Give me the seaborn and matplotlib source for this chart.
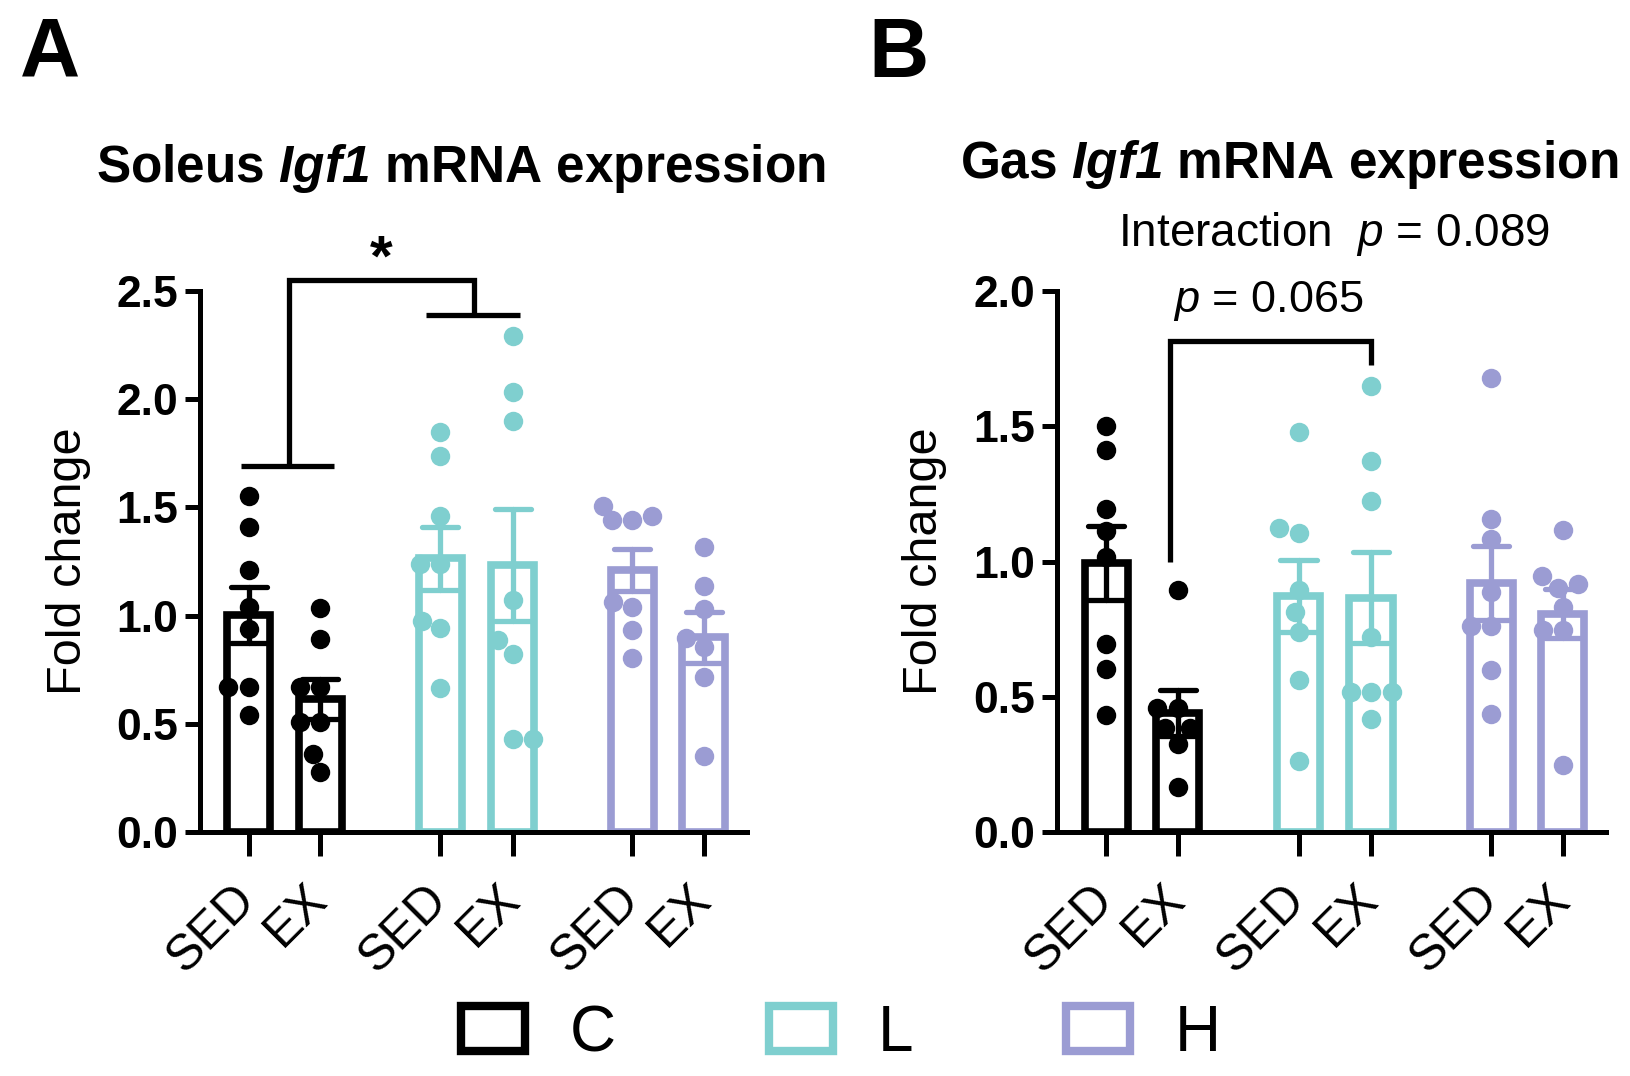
import pandas as pd
import seaborn as sns
import matplotlib.pyplot as plt
from matplotlib.patches import Patch

# --- 1. DADOS ---
POSITIONS = [0, 1, 2.68, 3.69, 5.36, 6.36]
CONDITIONS = ["SED", "EX", "SED", "EX", "SED", "EX"]
GROUPS = ["C", "C", "L", "L", "H", "H"]
GROUP_COLORS = {"C": "black", "L": "#7fcfcf", "H": "#9b9cd3"}

soleus_c_sed = [1.555, 1.41, 1.21, 1.04, 0.937, 0.669, 0.669, 0.54]
soleus_c_ex = [1.033, 0.893, 0.669, 0.669, 0.51, 0.51, 0.36, 0.276]
soleus_l_sed = [1.849, 1.738, 1.461, 1.24, 1.24, 0.977, 0.942, 0.665]
soleus_l_ex = [2.294, 2.033, 1.901, 1.074, 0.886, 0.822, 0.431, 0.431]
soleus_h_sed = [1.505, 1.46, 1.44, 1.44, 1.065, 1.039, 0.933, 0.805]
soleus_h_ex = [1.315, 1.136, 1.03, 0.898, 0.854, 0.717, 0.349]

gas_c_sed = [1.50, 1.412, 1.194, 1.114, 1.018, 0.695, 0.603, 0.432]
gas_c_ex = [0.893, 0.46, 0.46, 0.383, 0.383, 0.326, 0.167]
gas_l_sed = [1.48, 1.125, 1.104, 0.896, 0.812, 0.741, 0.563, 0.263]
gas_l_ex = [1.648, 1.37, 1.222, 0.72, 0.516, 0.516, 0.516, 0.418]
gas_h_sed = [1.677, 1.156, 1.082, 0.889, 0.762, 0.762, 0.6, 0.435]
gas_h_ex = [1.117, 0.945, 0.917, 0.903, 0.833, 0.748, 0.748, 0.246]

SOLEUS = [soleus_c_sed, soleus_c_ex, soleus_l_sed, soleus_l_ex, soleus_h_sed, soleus_h_ex]
GAS = [gas_c_sed, gas_c_ex, gas_l_sed, gas_l_ex, gas_h_sed, gas_h_ex]

# --- 2. ESTILO ---
sns.set_style("ticks")
plt.rcParams["font.family"] = ["Liberation Sans", "DejaVu Sans"]
plt.rcParams["mathtext.fontset"] = "custom"
plt.rcParams["mathtext.rm"] = "Liberation Sans"
plt.rcParams["mathtext.it"] = "Liberation Sans:italic"
plt.rcParams["mathtext.bf"] = "Liberation Sans:bold"
plt.rcParams["mathtext.bfit"] = "Liberation Sans:bold:italic"
for key in ("text.color", "axes.labelcolor", "xtick.color", "ytick.color", "axes.edgecolor"):
    plt.rcParams[key] = "black"

LW_AXIS = 3.6


def build_frame(series):
    rows = []
    for pos, cond, grp, vals in zip(POSITIONS, CONDITIONS, GROUPS, series):
        for v in vals:
            rows.append({"pos": pos, "condition": cond, "group": grp, "value": v})
    return pd.DataFrame(rows)


def draw_panel(ax, df, ymax, yticks):
    for grp, col in GROUP_COLORS.items():
        sub = df[df["group"] == grp]
        sns.barplot(data=sub, x="pos", y="value", native_scale=True, errorbar="se",
                    fill=False, color=col, linewidth=5.5, width=0.6, capsize=0.5,
                    err_kws={"color": col, "linewidth": 3.8}, ax=ax)
        sns.swarmplot(data=sub, x="pos", y="value", native_scale=True, color=col,
                      size=14, ax=ax, zorder=4)

    ax.set_xlim(-0.68, 6.96)
    ax.set_ylim(0, ymax)
    ax.set_yticks(yticks)
    ax.set_yticklabels([f"{t:.1f}" for t in yticks], fontsize=32, fontweight="bold")
    ax.set_xticks(POSITIONS)
    ax.set_xticklabels(CONDITIONS, rotation=45, ha="right", va="center",
                       rotation_mode="anchor", fontsize=36)
    ax.set_xlabel("")
    ax.set_ylabel("Fold change", fontsize=35)
    ax.yaxis.set_label_coords(-0.2, 0.5)
    sns.despine(ax=ax)
    ax.spines["left"].set_bounds(0, ymax)
    for s in ("left", "bottom"):
        ax.spines[s].set_linewidth(LW_AXIS)
    ax.tick_params(axis="y", length=11, width=LW_AXIS, pad=5)
    ax.tick_params(axis="x", length=17, width=LW_AXIS, pad=26)


def line(ax, xs, ys):
    ax.plot(xs, ys, color="black", linewidth=3.8, clip_on=False, solid_capstyle="butt",
            solid_joinstyle="miter", zorder=6)


fig = plt.figure(figsize=(16.30, 10.76), dpi=100)
ax_a = fig.add_axes([0.1227, 0.2268, 0.3353, 0.5027])
ax_b = fig.add_axes([0.6486, 0.2268, 0.3367, 0.5027])

draw_panel(ax_a, build_frame(SOLEUS), 2.5, [0.0, 0.5, 1.0, 1.5, 2.0, 2.5])
draw_panel(ax_b, build_frame(GAS), 2.0, [0.0, 0.5, 1.0, 1.5, 2.0])

# --- 3. ANOTAÇÕES ---
# painel A: C vs L
line(ax_a, [POSITIONS[0] - 0.1, POSITIONS[1] + 0.2], [1.69, 1.69])
line(ax_a, [0.57, 0.57, 3.15, 3.15], [1.69, 2.55, 2.55, 2.39])
line(ax_a, [POSITIONS[2] - 0.2, POSITIONS[3] + 0.1], [2.39, 2.39])
ax_a.text(1.86, 2.64, "*", ha="center", va="center", fontsize=42, fontweight="bold")

# painel B: C-EX vs L-EX
line(ax_b, [0.89, 0.89, 3.69, 3.69], [1.0, 1.817, 1.817, 1.728])
ax_b.text(2.26, 1.965, r"$p$ = 0.065", ha="center", va="center", fontsize=32.5)
ax_b.text(3.18, 2.21, r"Interaction  $p$ = 0.089", ha="center", va="center",
          fontsize=33, clip_on=False)

fig.text(0.2825, 0.843, r"Soleus $\mathbfit{Igf1}$ mRNA expression", ha="center",
         va="center", fontsize=37, fontweight="bold")
fig.text(0.791, 0.847, r"Gas $\mathbfit{Igf1}$ mRNA expression", ha="center",
         va="center", fontsize=37, fontweight="bold")
fig.text(0.012, 0.949, "A", ha="left", va="center", fontsize=60, fontweight="bold")
fig.text(0.533, 0.949, "B", ha="left", va="center", fontsize=60, fontweight="bold")

handles = [Patch(facecolor="white", edgecolor=c, linewidth=6) for c in GROUP_COLORS.values()]
fig.legend(handles, list(GROUP_COLORS.keys()), loc="center", bbox_to_anchor=(0.516, 0.039),
           ncol=3, frameon=False, fontsize=46, handlelength=1.0, handleheight=0.7,
           handletextpad=0.7, columnspacing=2.4)

fig.savefig("out.png", dpi=100)
